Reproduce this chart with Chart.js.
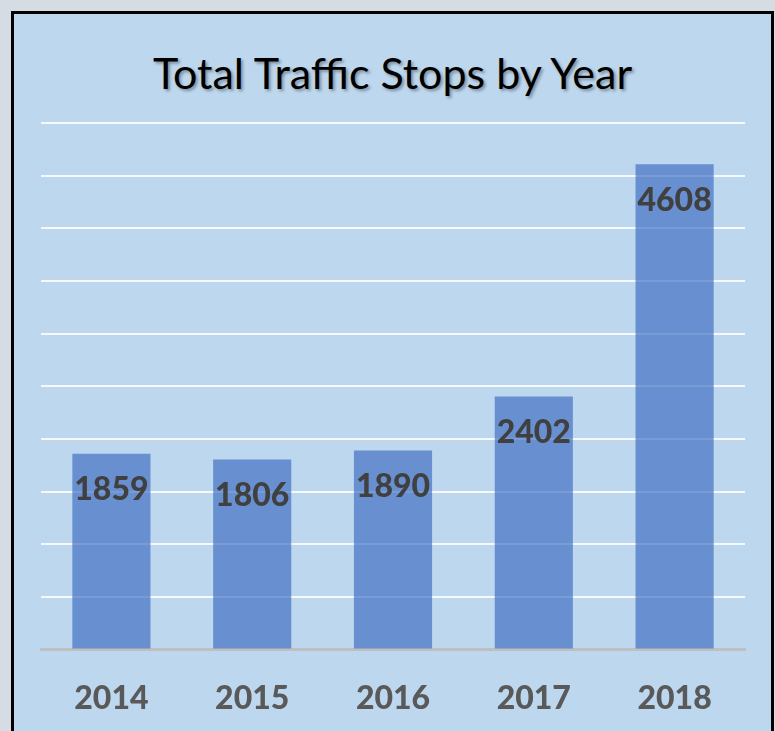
<!DOCTYPE html>
<html>
<head>
<meta charset="utf-8">
<script src="https://cdn.jsdelivr.net/npm/chart.js@4.4.1/dist/chart.umd.min.js"></script>
<style>
  html, body { margin: 0; padding: 0; width: 775px; height: 731px; overflow: hidden; background: #D6DCE4; }
  #panel { position: absolute; left: 11px; top: 11px; width: 757px; height: 800px; border: 3px solid #000; background: #BDD7EE; }
  #title { position: absolute; left: 0; top: 47px; width: 785px; margin: 0; text-align: center;
           font: 400 43px Lato, sans-serif; color: #000; text-shadow: 2px 2px 3px rgba(0,0,0,0.35); }
  #chartStops { position: absolute; left: 0; top: 0; }
</style>
</head>
<body>
<div id="panel"></div>
<h1 id="title">Total Traffic Stops by Year</h1>
<canvas id="chartStops" width="775" height="762"></canvas>
<script>
  const years = ['2014', '2015', '2016', '2017', '2018'];
  const stops = [1859, 1806, 1890, 2402, 4608];
  const yMax = 5000;
  const yStep = 500;

  /* etiquetas dentro de la barra */
  const barLabels = {
    id: 'barLabels',
    afterDatasetsDraw(chart) {
      const ctx = chart.ctx;
      const meta = chart.getDatasetMeta(0);
      ctx.save();
      ctx.font = '900 32px Lato';
      ctx.fillStyle = '#404040';
      ctx.textAlign = 'center';
      ctx.textBaseline = 'middle';
      meta.data.forEach((bar, i) => {
        ctx.fillText(stops[i], bar.x, bar.y + 36);
      });
      ctx.restore();
    },
  };

  const cmc = document.getElementById('chartStops');
  const chartStops = new Chart(cmc, {
    type: 'bar',
    plugins: [barLabels],
    data: {
      labels: years,
      datasets: [
        {
          data: stops,
          backgroundColor: 'rgba(68, 114, 196, 0.7)',
          borderWidth: 0,
          barPercentage: 0.555,
          categoryPercentage: 1,
        },
      ],
    },
    options: {
      responsive: false,
      animation: false,
      layout: { padding: { left: 41, right: 30, top: 123, bottom: 14 } },
      scales: {
        x: {
          grid: { display: false, drawTicks: false },
          border: { display: true, color: '#BFBFBF', width: 3 },
          ticks: {
            padding: 30,
            color: '#595959',
            font: { family: 'Lato', size: 32, weight: '900' },
          },
        },
        y: {
          min: 0,
          max: yMax,
          ticks: { display: false, stepSize: yStep },
          border: { display: false },
          grid: {
            drawTicks: false,
            lineWidth: 2,
            color: (c) => (c.tick && c.tick.value === 0 ? 'rgba(0,0,0,0)' : 'rgba(255,255,255,0.85)'),
          },
        },
      },
      plugins: {
        legend: { display: false },
        tooltip: { enabled: false },
      },
    },
  });
</script>
</body>
</html>
